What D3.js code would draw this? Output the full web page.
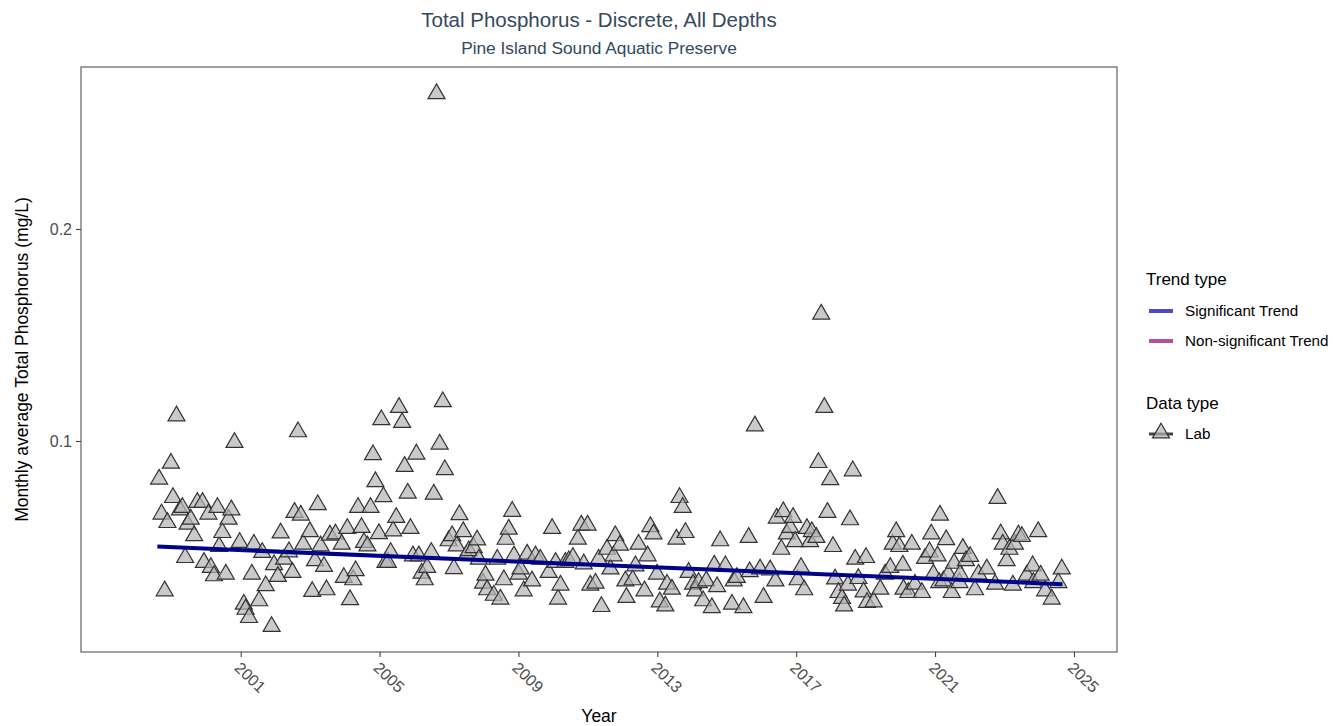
<!DOCTYPE html>
<html>
<head>
<meta charset="utf-8">
<script src="https://cdn.jsdelivr.net/npm/d3@7"></script>
<style>
  body { margin: 0; background: #fff; }
  svg { font-family: "Liberation Sans", Arial, sans-serif; }
</style>
</head>
<body>
<svg id="chart" width="1333" height="726"></svg>
<script>
// monthly average lab samples: [decimal year, mg/L]
var labPoints = [
  [1998.65,0.0832],[1998.72,0.0667],[1998.81,0.0305],[1998.89,0.0627],[1998.99,0.0907],
  [1999.05,0.0745],[1999.15,0.1130],[1999.25,0.0687],[1999.32,0.0698],[1999.40,0.0462],
  [1999.47,0.0619],[1999.56,0.0643],[1999.66,0.0565],[1999.75,0.0722],[1999.90,0.0722],
  [1999.94,0.0439],[2000.07,0.0667],[2000.14,0.0415],[2000.23,0.0376],[2000.33,0.0698],
  [2000.38,0.0514],[2000.47,0.0580],[2000.57,0.0384],[2000.65,0.0643],[2000.73,0.0687],
  [2000.82,0.1005],[2000.97,0.0533],[2001.09,0.0242],[2001.14,0.0218],[2001.24,0.0179],
  [2001.32,0.0384],[2001.38,0.0525],[2001.53,0.0258],[2001.62,0.0486],[2001.72,0.0329],
  [2001.89,0.0137],[2001.96,0.0428],[2002.07,0.0373],[2002.15,0.0578],[2002.25,0.0454],
  [2002.39,0.0489],[2002.49,0.0392],[2002.55,0.0675],[2002.65,0.1055],[2002.73,0.0662],
  [2002.80,0.0525],[2002.99,0.0584],[2003.06,0.0302],[2003.14,0.0447],[2003.22,0.0711],
  [2003.30,0.0517],[2003.40,0.0420],[2003.47,0.0310],[2003.57,0.0568],[2003.73,0.0573],
  [2003.91,0.0525],[2003.97,0.0368],[2004.07,0.0599],[2004.15,0.0263],[2004.24,0.0357],
  [2004.31,0.0400],[2004.38,0.0698],[2004.48,0.0604],[2004.55,0.0533],[2004.65,0.0517],
  [2004.74,0.0698],[2004.81,0.0947],[2004.88,0.0820],[2004.98,0.0575],[2005.05,0.1112],
  [2005.11,0.0749],[2005.17,0.0439],[2005.24,0.0439],[2005.32,0.0486],[2005.39,0.0588],
  [2005.48,0.0651],[2005.56,0.1170],[2005.65,0.1099],[2005.72,0.0892],[2005.81,0.0766],
  [2005.89,0.0599],[2005.96,0.0470],[2006.06,0.0950],[2006.13,0.0470],[2006.21,0.0388],
  [2006.30,0.0357],[2006.37,0.0415],[2006.49,0.0486],[2006.56,0.0761],[2006.64,0.2650],
  [2006.73,0.0997],[2006.82,0.1197],[2006.88,0.0876],[2006.99,0.0541],[2007.09,0.0565],
  [2007.14,0.0410],[2007.22,0.0517],[2007.30,0.0664],[2007.41,0.0584],[2007.50,0.0473],
  [2007.57,0.0494],[2007.71,0.0509],[2007.81,0.0545],[2007.86,0.0454],[2007.98,0.0341],
  [2008.05,0.0379],[2008.10,0.0310],[2008.29,0.0284],[2008.39,0.0454],[2008.48,0.0266],
  [2008.58,0.0357],[2008.63,0.0548],[2008.72,0.0596],[2008.82,0.0680],[2008.87,0.0470],
  [2009.01,0.0384],[2009.06,0.0408],[2009.15,0.0305],[2009.25,0.0478],[2009.39,0.0352],
  [2009.49,0.0470],[2009.63,0.0454],[2009.87,0.0392],[2009.97,0.0599],[2010.07,0.0439],
  [2010.14,0.0266],[2010.21,0.0332],[2010.35,0.0439],[2010.45,0.0447],[2010.57,0.0462],
  [2010.71,0.0549],[2010.81,0.0615],[2010.88,0.0432],[2010.99,0.0615],[2011.07,0.0332],
  [2011.22,0.0341],[2011.31,0.0454],[2011.39,0.0231],[2011.55,0.0501],[2011.65,0.0408],
  [2011.74,0.0470],[2011.79,0.0565],[2011.92,0.0520],[2012.08,0.0352],[2012.11,0.0274],
  [2012.29,0.0357],[2012.37,0.0423],[2012.46,0.0525],[2012.63,0.0305],[2012.72,0.0470],
  [2012.80,0.0608],[2012.89,0.0573],[2012.99,0.0384],[2013.07,0.0253],[2013.23,0.0234],
  [2013.28,0.0336],[2013.42,0.0313],[2013.55,0.0549],[2013.64,0.0745],[2013.73,0.0698],
  [2013.81,0.0580],[2013.90,0.0392],[2014.03,0.0336],[2014.09,0.0305],[2014.19,0.0344],
  [2014.32,0.0258],[2014.41,0.0352],[2014.57,0.0226],[2014.64,0.0426],[2014.72,0.0325],
  [2014.81,0.0541],[2014.96,0.0423],[2015.15,0.0242],[2015.20,0.0352],[2015.29,0.0368],
  [2015.48,0.0226],[2015.63,0.0557],[2015.66,0.0395],[2015.81,0.1083],[2015.96,0.0408],
  [2016.06,0.0274],[2016.25,0.0404],[2016.40,0.0352],[2016.44,0.0648],[2016.57,0.0501],
  [2016.63,0.0678],[2016.73,0.0573],[2016.83,0.0604],[2016.91,0.0651],[2016.97,0.0537],
  [2017.04,0.0357],[2017.14,0.0415],[2017.23,0.0310],[2017.31,0.0599],[2017.40,0.0537],
  [2017.45,0.0584],[2017.58,0.0557],[2017.64,0.0910],[2017.72,0.1610],[2017.81,0.1170],
  [2017.90,0.0675],[2017.98,0.0829],[2018.06,0.0514],[2018.12,0.0361],[2018.22,0.0297],
  [2018.32,0.0269],[2018.38,0.0234],[2018.49,0.0332],[2018.55,0.0640],[2018.63,0.0871],
  [2018.70,0.0454],[2018.79,0.0363],[2018.94,0.0300],[2019.01,0.0462],[2019.04,0.0250],
  [2019.23,0.0253],[2019.42,0.0313],[2019.56,0.0384],[2019.71,0.0415],[2019.78,0.0525],
  [2019.88,0.0584],[2019.97,0.0514],[2020.07,0.0426],[2020.09,0.0313],[2020.23,0.0297],
  [2020.33,0.0525],[2020.42,0.0336],[2020.62,0.0297],[2020.71,0.0458],[2020.84,0.0489],
  [2020.89,0.0573],[2020.95,0.0384],[2021.07,0.0470],[2021.12,0.0344],[2021.14,0.0662],
  [2021.24,0.0352],[2021.32,0.0546],[2021.38,0.0384],[2021.48,0.0297],[2021.55,0.0435],
  [2021.70,0.0344],[2021.72,0.0384],[2021.80,0.0505],[2021.89,0.0447],[2022.01,0.0467],
  [2022.15,0.0310],[2022.25,0.0384],[2022.49,0.0408],[2022.73,0.0336],[2022.80,0.0741],
  [2022.89,0.0573],[2022.95,0.0525],[2023.06,0.0447],[2023.14,0.0501],[2023.24,0.0332],
  [2023.30,0.0525],[2023.40,0.0568],[2023.50,0.0561],[2023.64,0.0379],[2023.81,0.0423],
  [2023.83,0.0344],[2023.97,0.0584],[2024.04,0.0379],[2024.17,0.0305],[2024.36,0.0266],
  [2024.55,0.0344],[2024.65,0.0408]
];

// fitted trend (start and end of period)
var trendYears = [1998.60, 2024.67];
var trendValues = [0.0502, 0.0325];

var xTicks = [2001, 2005, 2009, 2013, 2017, 2021, 2025];
var yTicks = [0.1, 0.2];

var legendTrend = ["Significant Trend", "Non-significant Trend"];
var legendTrendColors = ["#4b4bc4", "#b44fa2"];

var svg = d3.select("#chart");
var pLeft = 81, pRight = 1117, pTop = 67, pBottom = 652;

var x = d3.scaleLinear().domain([1996.40, 2026.24]).range([pLeft, pRight]);
var y = d3.scaleLinear().domain([0.0005, 0.2764]).range([pBottom, pTop]);

var titleColor = "#34495e";
var tickColor = "#4d4d4d";

// titles
svg.append("text").attr("x", 599).attr("y", 27).attr("text-anchor", "middle")
  .attr("font-size", 20.5).attr("fill", titleColor).text("Total Phosphorus - Discrete, All Depths");
svg.append("text").attr("x", 599).attr("y", 54).attr("text-anchor", "middle")
  .attr("font-size", 17.3).attr("fill", titleColor).text("Pine Island Sound Aquatic Preserve");

// panel
svg.append("rect").attr("x", pLeft).attr("y", pTop)
  .attr("width", pRight - pLeft).attr("height", pBottom - pTop)
  .attr("fill", "#fff").attr("stroke", "#444").attr("stroke-width", 1);

// axes
var xAxis = svg.append("g").attr("transform", "translate(0," + pBottom + ")")
  .call(d3.axisBottom(x).tickValues(xTicks).tickFormat(d3.format("d")).tickSize(5).tickSizeOuter(0));
xAxis.select(".domain").remove();
xAxis.selectAll("line").attr("stroke", "#333");
xAxis.selectAll("text")
  .attr("fill", tickColor).attr("font-size", 16)
  .attr("text-anchor", "start")
  .attr("y", 0).attr("x", 0)
  .attr("transform", "translate(1,8) rotate(44)")
  .attr("dy", "0.78em");

var yAxis = svg.append("g").attr("transform", "translate(" + pLeft + ",0)")
  .call(d3.axisLeft(y).tickValues(yTicks).tickFormat(d3.format(".1f")).tickSize(5).tickSizeOuter(0));
yAxis.select(".domain").remove();
yAxis.selectAll("line").attr("stroke", "#333");
yAxis.selectAll("text").attr("fill", tickColor).attr("font-size", 16).attr("x", -9);

svg.append("text").attr("x", 599).attr("y", 722).attr("text-anchor", "middle")
  .attr("font-size", 17.5).attr("fill", "#000").text("Year");
svg.append("text").attr("transform", "translate(28," + ((pTop + pBottom) / 2) + ") rotate(-90)")
  .attr("text-anchor", "middle").attr("font-size", 17.5).attr("fill", "#000")
  .text("Monthly average Total Phosphorus (mg/L)");

// points (triangle nudged so its box, not its centroid, sits on the value)
var tri = d3.symbol().type(d3.symbolTriangle).size(125);
var triNudge = 2.5;
svg.append("g").selectAll("path").data(labPoints).join("path")
  .attr("d", tri)
  .attr("transform", function(d) { return "translate(" + x(d[0]) + "," + (y(d[1]) + triNudge) + ")"; })
  .attr("fill", "#b4b4b4").attr("fill-opacity", 0.7)
  .attr("stroke", "#333").attr("stroke-width", 1.2);

// trend line
var trend = d3.zip(trendYears, trendValues);
svg.append("path").datum(trend)
  .attr("d", d3.line().x(function(d) { return x(d[0]); }).y(function(d) { return y(d[1]); }))
  .attr("stroke", "#00008b").attr("stroke-width", 4).attr("fill", "none");

// legend
var lg = svg.append("g").attr("transform", "translate(1146,0)");
lg.append("text").attr("x", 0).attr("y", 285).attr("font-size", 17).text("Trend type");
legendTrend.forEach(function(name, i) {
  var yy = 311 + i * 30;
  lg.append("line").attr("x1", 3).attr("x2", 27).attr("y1", yy).attr("y2", yy)
    .attr("stroke", legendTrendColors[i]).attr("stroke-width", 4);
  lg.append("text").attr("x", 39).attr("y", yy + 5).attr("font-size", 15.2).text(name);
});
lg.append("text").attr("x", 0).attr("y", 409).attr("font-size", 17).text("Data type");
lg.append("line").attr("x1", 3).attr("x2", 27).attr("y1", 434).attr("y2", 434)
  .attr("stroke", "#444").attr("stroke-width", 3);
lg.append("path").attr("d", tri).attr("transform", "translate(15,433)")
  .attr("fill", "#b4b4b4").attr("fill-opacity", 0.7).attr("stroke", "#333").attr("stroke-width", 1.2);
lg.append("text").attr("x", 39).attr("y", 439).attr("font-size", 15.2).text("Lab");
</script>
</body>
</html>
